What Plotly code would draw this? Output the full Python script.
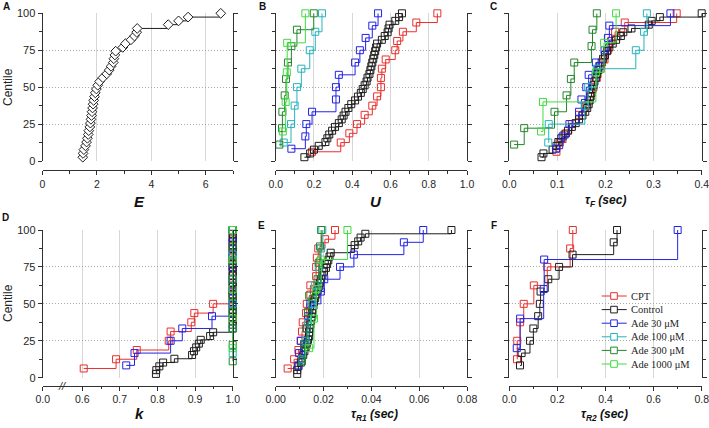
import plotly.graph_objects as go

W, H = 709, 428

names = ["CPT", "Control", "Ade 30 μM", "Ade 100 μM", "Ade 300 μM", "Ade 1000 μM"]
colors = ["#e8302e", "#1e1e1e", "#2323e6", "#26b3bd", "#23862a", "#3fdc3f"]

# Panel A: E (control cells)
E_ctrl = [1.48, 1.49, 1.52, 1.58, 1.62, 1.65, 1.68, 1.70, 1.74, 1.76, 1.78, 1.80, 1.82,
          1.84, 1.86, 1.88, 1.91, 1.94, 1.98, 2.03, 2.10, 2.22, 2.36, 2.45, 2.52, 2.60,
          2.62, 2.66, 2.69, 2.95, 3.05, 3.25, 3.38, 3.46, 3.48, 4.62, 5.00, 5.35, 6.55]

# Panel B: U
U_cpt = [0.19, 0.34, 0.385, 0.425, 0.465, 0.505, 0.53, 0.55, 0.55, 0.555, 0.575, 0.625,
         0.635, 0.665, 0.735, 0.845]
U_ctrl = [0.15, 0.18, 0.20, 0.225, 0.26, 0.27, 0.28, 0.295, 0.31, 0.33, 0.345, 0.355, 0.365,
          0.38, 0.395, 0.415, 0.43, 0.445, 0.455, 0.465, 0.475, 0.48, 0.49, 0.495, 0.50,
          0.505, 0.51, 0.515, 0.52, 0.525, 0.53, 0.555, 0.57, 0.585, 0.59, 0.595, 0.625,
          0.645, 0.66]
U_30 = [0.082, 0.155, 0.16, 0.19, 0.315, 0.315, 0.33, 0.415, 0.44, 0.47, 0.505, 0.535]
U_100 = [0.042, 0.08, 0.099, 0.111, 0.134, 0.178, 0.207, 0.242]
U_300 = [0.019, 0.033, 0.035, 0.047, 0.054, 0.064, 0.082, 0.111, 0.199]
U_1000 = [0.037, 0.052, 0.058, 0.060, 0.155]

# Panel C: tau_F (sec)
tF_cpt = [0.098, 0.105, 0.118, 0.13, 0.145, 0.16, 0.168, 0.175, 0.182, 0.19, 0.198, 0.205,
          0.212, 0.22, 0.24, 0.348]
tF_ctrl = [0.067, 0.071, 0.09, 0.098, 0.102, 0.108, 0.115, 0.122, 0.13, 0.138, 0.145, 0.152,
           0.158, 0.162, 0.165, 0.167, 0.169, 0.171, 0.173, 0.175, 0.177, 0.18, 0.183,
           0.185, 0.188, 0.192, 0.195, 0.199, 0.203, 0.208, 0.215, 0.222, 0.232, 0.237,
           0.254, 0.29, 0.296, 0.313, 0.40]
tF_30 = [0.097, 0.111, 0.125, 0.145, 0.15, 0.16, 0.165, 0.18, 0.198, 0.205, 0.208, 0.335]
tF_100 = [0.081, 0.082, 0.157, 0.164, 0.182, 0.263, 0.28, 0.286]
tF_300 = [0.01, 0.031, 0.094, 0.119, 0.128, 0.135, 0.171, 0.173, 0.182]
tF_1000 = [0.066, 0.07, 0.18, 0.197, 0.222]

# Panel D: k
k_cpt = [0.604, 0.69, 0.745, 0.83, 0.835, 0.89, 0.898, 0.948,
         1.0, 1.0, 1.0, 1.0, 1.0, 1.0, 1.0, 1.0]
k_ctrl = [0.796, 0.797, 0.805, 0.815, 0.845, 0.892, 0.897, 0.903, 0.91, 0.915, 0.94, 0.948,
          1.0, 1.0, 1.0, 1.0, 1.0, 1.0, 1.0, 1.0, 1.0, 1.0, 1.0, 1.0, 1.0, 1.0,
          1.0, 1.0, 1.0, 1.0, 1.0, 1.0, 1.0, 1.0, 1.0, 1.0, 1.0, 1.0, 1.0]
k_30 = [0.717, 0.739, 0.835, 0.866, 0.945, 1.0, 1.0, 1.0, 1.0, 1.0, 1.0, 1.0]
k_100 = [1.0, 1.0, 1.0, 1.0, 1.0, 1.0]
k_300 = [1.0, 1.0, 1.0, 1.0, 1.0, 1.0, 1.0, 1.0, 1.0]
k_1000 = [1.0, 1.0, 1.0, 1.0, 1.0]
k_ticks = [0.495, 0.6, 0.7, 0.8, 0.9, 1.0]
k_ticktext = ["0.0", "0.6", "0.7", "0.8", "0.9", "1.0"]

# Panel E: tau_R1 (sec)
R1_cpt = [0.005, 0.0077, 0.0095, 0.0105, 0.011, 0.0113, 0.0127, 0.013, 0.0145, 0.0145,
          0.0169, 0.0169, 0.0172, 0.0178, 0.0206, 0.0248]
R1_ctrl = [0.009, 0.009, 0.0095, 0.0105, 0.011, 0.0115, 0.012, 0.0125, 0.013, 0.0135, 0.014,
           0.014, 0.0142, 0.0145, 0.0148, 0.015, 0.0152, 0.0155, 0.0158, 0.016, 0.0165,
           0.017, 0.0175, 0.018, 0.0185, 0.019, 0.0195, 0.0202, 0.021, 0.0215, 0.022,
           0.0225, 0.023, 0.0315, 0.033, 0.0345, 0.0355, 0.0375, 0.0735]
R1_30 = [0.0095, 0.0098, 0.0105, 0.013, 0.0135, 0.0145, 0.0189, 0.0203, 0.0269, 0.0327,
         0.0536, 0.0617]
R1_100 = [0.011, 0.0125, 0.0135, 0.015, 0.0165, 0.018, 0.019, 0.0195]
R1_300 = [0.011, 0.012, 0.013, 0.0135, 0.014, 0.0175, 0.018, 0.0185, 0.019]
R1_1000 = [0.014, 0.016, 0.017, 0.019, 0.030]

# Panel F: tau_R2 (sec)
R2_cpt = [0.032, 0.033, 0.045, 0.06, 0.102, 0.158, 0.253, 0.264]
R2_ctrl = [0.0445, 0.051, 0.086, 0.10, 0.12, 0.127, 0.13, 0.162, 0.207, 0.263, 0.434, 0.448]
R2_30 = [0.031, 0.045, 0.143, 0.145, 0.70]

centile_ticks = [0, 25, 50, 75, 100]


def fx(p):
    return p / W


def fy(p):
    return 1 - p / H


def centiles(vals):
    n = len(vals)
    return [100.0 * (i + 1) / n for i in range(n)]


fig = go.Figure()

AX = "#303030"
SANS = "Liberation Sans, Arial, sans-serif"
XTICKFONT = dict(family=SANS, size=10.5, color="#262626")
YTICKFONT = dict(family=SANS, size=11, color="#262626")

panels = [
    dict(n=1, xd=(42.5, 233), row=0, rng=[0, 7], dtick=2, minor=1, fmt="d",
         series=None),
    dict(n=2, xd=(275.7, 467), row=0, rng=[0, 1.0], dtick=0.2, minor=0.1, fmt=".1f",
         series=[U_cpt, U_ctrl, U_30, U_100, U_300, U_1000]),
    dict(n=3, xd=(509.3, 701.7), row=0, rng=[0, 0.4], dtick=0.1, minor=0.05, fmt=".1f",
         series=[tF_cpt, tF_ctrl, tF_30, tF_100, tF_300, tF_1000]),
    dict(n=4, xd=(42.7, 232.7), row=1, rng=[k_ticks[0], 1.0], dtick=None, minor=None,
         fmt=None, series=[k_cpt, k_ctrl, k_30, k_100, k_300, k_1000]),
    dict(n=5, xd=(275.7, 467), row=1, rng=[0, 0.08], dtick=0.02, minor=0.01, fmt=".2f",
         series=[R1_cpt, R1_ctrl, R1_30, R1_100, R1_300, R1_1000]),
    dict(n=6, xd=(509.3, 701.7), row=1, rng=[0, 0.8], dtick=0.2, minor=0.1, fmt=".1f",
         series=[R2_cpt, R2_ctrl, R2_30]),
]

rows = [dict(top=13.3, bot=161, axis=170), dict(top=230, bot=377.7, axis=385.7)]

layout = {}
for p in panels:
    n = p["n"]
    sfx = "" if n == 1 else str(n)
    r = rows[p["row"]]
    xa = dict(
        domain=[fx(p["xd"][0]), fx(p["xd"][1])], range=p["rng"], anchor="free",
        position=fy(r["axis"]), showline=True, linecolor=AX, linewidth=1,
        ticks="outside", ticklen=4, tickwidth=1, tickcolor=AX, tickfont=XTICKFONT,
        showgrid=True, gridcolor="#d6d6d6", gridwidth=1, griddash="solid",
        zeroline=False, mirror=False, fixedrange=True, automargin=False,
        ticklabeloverflow="allow",
    )
    if p["dtick"] is not None:
        xa.update(tickmode="linear", tick0=0, dtick=p["dtick"], tickformat=p["fmt"],
                  minor=dict(dtick=p["minor"], tick0=0, ticks="outside", ticklen=2.5,
                             tickcolor=AX, showgrid=False))
    else:
        xa.update(tickmode="array", tickvals=k_ticks, ticktext=k_ticktext,
                  minor=dict(tickvals=[0.65, 0.75, 0.85, 0.95], ticks="outside",
                             ticklen=2.5, tickcolor=AX, showgrid=False))
    ya = dict(
        domain=[fy(r["bot"]), fy(r["top"])], range=[0, 100], anchor="x" + sfx,
        tickmode="array", tickvals=centile_ticks, showticklabels=(n in (1, 4)),
        showline=True, linecolor=AX, linewidth=1, mirror="ticks",
        ticks="outside", ticklen=4, tickwidth=1, tickcolor=AX, tickfont=YTICKFONT,
        showgrid=True, gridcolor="#a8a8a8", gridwidth=1, griddash="1px,2px",
        zeroline=False, fixedrange=True, automargin=False,
        minor=dict(dtick=12.5, tick0=0, ticks="outside", ticklen=3, tickcolor=AX,
                   showgrid=False),
    )
    layout["xaxis" + sfx] = xa
    layout["yaxis" + sfx] = ya

    if p["series"] is None:
        fig.add_trace(go.Scatter(
            x=E_ctrl, y=centiles(E_ctrl), mode="lines+markers",
            line=dict(shape="hv", color="#1e1e1e", width=1),
            marker=dict(symbol="diamond", size=7.5, color="white",
                        line=dict(color="#1e1e1e", width=1)),
            xaxis="x" + sfx, yaxis="y" + sfx, cliponaxis=False, showlegend=False,
            hoverinfo="skip"))
    else:
        for i, vals in enumerate(p["series"]):
            fig.add_trace(go.Scatter(
                x=vals, y=centiles(vals), mode="lines+markers", name=names[i],
                line=dict(shape="hv", color=colors[i], width=1),
                marker=dict(symbol="square-open", size=7, color=colors[i],
                            line=dict(width=1)),
                xaxis="x" + sfx, yaxis="y" + sfx, cliponaxis=False, showlegend=False,
                hoverinfo="skip"))

ann = []
LBL = dict(family=SANS, size=10, color="#111")
for letter, x, y in [("A", 6, 7), ("B", 262, 7), ("C", 493, 7),
                     ("D", 5, 217), ("E", 261, 225.7), ("F", 494, 225.7)]:
    ann.append(dict(text="<b>" + letter + "</b>", x=fx(x), y=fy(y), xref="paper",
                    yref="paper", showarrow=False, font=LBL, xanchor="center",
                    yanchor="middle"))

TITLE = dict(family=SANS, size=15, color="#111")
TITLE2 = dict(family=SANS, size=12, color="#111")
for txt, x, y, f in [("<b><i>E</i></b>", 139, 201, TITLE), ("<b><i>U</i></b>", 375.7, 201, TITLE),
                     ("<b><i>τ<sub>F</sub> (sec)</i></b>", 605, 201, TITLE2),
                     ("<b><i>k</i></b>", 139, 413, TITLE),
                     ("<b><i>τ<sub>R1</sub> (sec)</i></b>", 375, 415, TITLE2),
                     ("<b><i>τ<sub>R2</sub> (sec)</i></b>", 604, 415, TITLE2)]:
    ann.append(dict(text=txt, x=fx(x), y=fy(y), xref="paper", yref="paper",
                    showarrow=False, font=f, xanchor="center", yanchor="middle"))

for y in (87, 303):
    ann.append(dict(text="Centile", x=fx(8), y=fy(y), xref="paper", yref="paper",
                    showarrow=False, textangle=-90, xanchor="center", yanchor="middle",
                    font=dict(family=SANS, size=12, color="#262626")))

# axis break mark on k axis
ann.append(dict(text="<i>//</i>", x=fx(61.7), y=fy(385.5), xref="paper", yref="paper",
                showarrow=False, xanchor="center", yanchor="middle",
                font=dict(family=SANS, size=11, color="#303030")))

# legend in panel F
shapes = []
for i, nm in enumerate(names):
    y = 296 + i * 13.6
    shapes.append(dict(type="line", xref="paper", yref="paper", x0=fx(601.7), x1=fx(626.7),
                       y0=fy(y), y1=fy(y), line=dict(color=colors[i], width=1)))
    shapes.append(dict(type="rect", xref="paper", yref="paper", x0=fx(610.7), x1=fx(617.3),
                       y0=fy(y + 3.3), y1=fy(y - 3.3), fillcolor="white",
                       line=dict(color=colors[i], width=1)))
    ann.append(dict(text=nm, x=fx(629.3), y=fy(y), xref="paper", yref="paper",
                    showarrow=False, xanchor="left", yanchor="middle",
                    font=dict(family="Liberation Serif, Times New Roman, serif", size=10.5,
                              color="#262626")))

fig.update_layout(
    template="none",
    width=W, height=H, margin=dict(l=0, r=0, t=0, b=0, pad=0),
    paper_bgcolor="white", plot_bgcolor="white", showlegend=False,
    font=dict(family=SANS, size=11, color="#303030"),
    annotations=ann, shapes=shapes, **layout)

page_fix = ("document.documentElement.style.margin='0';"
            "document.documentElement.style.overflow='hidden';"
            "document.body.style.margin='0';document.body.style.padding='0';"
            "document.body.style.overflow='hidden';")

fig.write_html("out.html", post_script=page_fix,
               config={"displayModeBar": False, "staticPlot": True})
